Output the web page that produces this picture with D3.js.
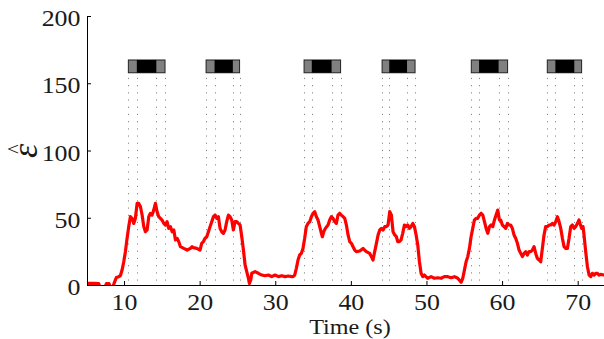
<!DOCTYPE html>
<html>
<head>
<meta charset="utf-8">
<script src="https://cdn.jsdelivr.net/npm/d3@7"></script>
<style>
  body { margin: 0; background: #fff; }
  svg { display: block; }
  text { font-family: "Liberation Serif", "Times New Roman", Times, serif; fill: #1a1a1a; }
</style>
</head>
<body>
<svg id="chart" width="604" height="339"></svg>
<script>
// Estimated error signal over time (s)
const timeS = [
  5.1, 5.33, 5.99, 6.65, 6.85, 7.45, 7.67, 8.02, 8.2, 8.55, 8.73, 8.99, 9.3, 9.52, 9.74, 9.96,
  10.18, 10.4, 10.62, 10.84, 11.06, 11.28, 11.5, 11.73, 11.95, 12.17, 12.39, 12.61, 12.83, 13.05,
  13.27, 13.49, 13.71, 13.93, 14.15, 14.37, 14.59, 14.81, 15.03, 15.25, 15.47, 15.69, 15.91, 16.14,
  16.36, 16.58, 16.8, 17.02, 17.24, 17.46, 17.9, 18.34, 18.78, 19.0, 19.17, 19.61, 20.05, 20.27,
  20.49, 20.71, 20.94, 21.16, 21.38, 21.6, 21.82, 22.04, 22.26, 22.48, 22.7, 22.92, 23.14, 23.36,
  23.58, 23.8, 24.02, 24.24, 24.46, 24.68, 24.9, 25.12, 25.35, 25.57, 25.79, 26.01, 26.23, 26.45,
  26.58, 26.76, 26.89, 27.33, 27.77, 28.21, 28.65, 29.09, 29.53, 29.97, 30.42, 30.86, 31.3, 31.74,
  32.18, 32.35, 32.57, 32.79, 33.01, 33.23, 33.45, 33.67, 33.89, 34.11, 34.33, 34.56, 34.78, 35.0,
  35.22, 35.44, 35.66, 35.88, 36.1, 36.23, 36.41, 36.63, 36.98, 37.2, 37.42, 37.64, 37.86, 38.08,
  38.3, 38.52, 38.74, 38.97, 39.19, 39.41, 39.63, 39.85, 40.07, 40.29, 40.51, 40.73, 41.17, 41.61,
  41.83, 42.05, 42.49, 42.71, 42.93, 43.15, 43.38, 43.6, 43.82, 44.04, 44.26, 44.48, 44.7, 44.92,
  45.14, 45.36, 45.58, 45.8, 46.02, 46.2, 46.42, 46.64, 46.86, 47.08, 47.3, 47.52, 47.74, 47.96,
  48.19, 48.41, 48.63, 48.85, 49.07, 49.29, 49.51, 49.73, 50.17, 50.61, 51.05, 51.49, 51.93, 52.37,
  52.82, 53.26, 53.7, 54.14, 54.58, 54.8, 55.02, 55.24, 55.46, 55.68, 55.9, 56.12, 56.34, 56.56,
  56.78, 57.01, 57.23, 57.45, 57.67, 57.89, 58.11, 58.33, 58.55, 58.77, 58.99, 59.21, 59.43, 59.65,
  59.82, 60.04, 60.26, 60.48, 60.7, 60.92, 61.14, 61.36, 61.58, 61.8, 62.03, 62.25, 62.47, 62.69,
  62.91, 63.13, 63.35, 63.57, 63.79, 64.01, 64.23, 64.45, 64.67, 64.89, 65.11, 65.33, 65.55, 65.77,
  66.0, 66.22, 66.44, 66.66, 66.88, 67.1, 67.32, 67.54, 67.76, 67.98, 68.2, 68.42, 68.64, 68.86,
  69.08, 69.3, 69.52, 69.74, 69.96, 70.18, 70.31, 70.53, 70.71, 70.84, 71.06, 71.29, 71.51, 71.73,
  71.95, 72.17, 72.39, 72.61, 72.83, 73.05, 73.49, 74.0, 74.5
];
const epsHat = [
  1.0, 1.2, 1.2, 1.0, -2, -2, 1.0, 1.0, -2, -1, 2, 5.6, 6.2, 7, 11.1, 17.3,
  24.8, 34.7, 43.4, 50.8, 49.6, 45.8, 49.6, 60.7, 60.7, 58.2, 52, 43.4, 39.6, 40.9,
  50.8, 53.3, 52, 55.7, 60.7, 54.5, 50.8, 49.6, 48.3, 45.8, 44.6, 47.1, 42.1, 43.4,
  39.6, 40.9, 33.5, 34.7, 32.2, 28.5, 27.2, 26, 27.2, 28.5, 27.8, 27.2, 26, 31,
  32.2, 34.7, 35.9, 39.6, 43.4, 47.1, 50.8, 52, 49.6, 50.8, 42.1, 39.6, 38.4, 40.9,
  47.1, 52, 50.8, 48.3, 40.9, 47.1, 47.1, 45.8, 44.6, 35.9, 26, 14.9, 9.9, 5,
  1.2, 3.7, 8.7, 9.9, 8.7, 7.4, 6.9, 7.4, 6.2, 7.4, 6.2, 6.9, 6.2, 6.7,
  6.2, 6.2, 7.4, 12.4, 18.6, 22.3, 23.5, 27.2, 34.7, 43.4, 45.8, 47.1, 50.8, 53.3,
  54.5, 50.8, 48.3, 43.4, 38.4, 35.9, 39.6, 42.1, 44.6, 48.3, 50.8, 49.6, 47.1, 45.8,
  52, 53.3, 52, 50.8, 49.6, 44.6, 37.2, 32.2, 31, 28.5, 26, 24.8, 25.3, 27.2,
  26, 24.8, 23.5, 21.1, 18.6, 24.8, 31, 37.2, 40.9, 42.1, 40.9, 43.4, 43.4, 44.6,
  54.5, 52, 39.6, 37.2, 35.9, 32.2, 32.2, 33.5, 38.4, 44.6, 43.4, 44.6, 42.1, 43.4,
  45.8, 43.4, 37.2, 29.7, 17.3, 8.7, 6.2, 7.4, 5, 6.2, 5, 5.4, 5, 6.2,
  6.2, 5.4, 6.2, 5, 2, 5, 11.1, 17.3, 21.1, 27.2, 35.9, 42.1, 48.3, 49.6,
  49.6, 52, 53.3, 52, 47.1, 42.1, 38.4, 43.4, 44.6, 43.4, 48.3, 52, 55.7, 48.3,
  48.3, 44.6, 43.4, 42.1, 45.8, 44.6, 44.6, 42.1, 37.2, 34.7, 31, 26, 23.5, 21.1,
  23.5, 24.8, 22.3, 24.8, 24.8, 26, 28.5, 23.5, 19.8, 18.6, 17.3, 27.2, 37.2, 43.4,
  43.4, 44.6, 44.6, 45.8, 44.6, 47.1, 50.8, 47.1, 42.1, 34.7, 28.5, 27.2, 27.2, 34.7,
  43.4, 44.6, 42.1, 43.4, 45.8, 48.3, 45.8, 42.1, 43.4, 37.2, 24.8, 13.6, 7.4, 6.2,
  8.7, 7.4, 8.7, 8.7, 7.4, 7.9, 7.4, 8.0, 7.5
];

// Stimulus windows: ramp-in start, full-on, full-off, ramp-out end (s)
const windowStart  = [10.57, 20.85, 33.81, 44.13, 55.93, 65.98];
const windowOnset  = [11.69, 21.97, 34.83, 45.08, 56.96, 67.05];
const windowOffset = [14.27, 24.39, 37.45, 47.43, 59.54, 69.55];
const windowEnd    = [15.42, 25.28, 38.64, 48.49, 60.73, 70.52];

const xTicks = [10, 20, 30, 40, 50, 60, 70];
const yTicks = [0, 50, 100, 150, 200];

const svg = d3.select("#chart");

const x = d3.scaleLinear().domain([5.1, 74.5]).range([87, 611.7]);
const y = d3.scaleLinear().domain([0, 200]).range([285, 16]);

// marker band drawn above the traces, in data units
const bandLow = 157.8, bandHigh = 167.3, guideTop = 154;

svg.append("defs").append("clipPath").attr("id", "plotClip")
  .append("rect").attr("x", 87).attr("y", 16).attr("width", 530).attr("height", 269);

const windows = windowStart.map((s, i) => ({
  s, on: windowOnset[i], off: windowOffset[i], e: windowEnd[i]
}));

// dotted guide lines at each window boundary
const guides = svg.append("g");
windows.forEach(w => {
  [w.s, w.on, w.off, w.e].forEach(t => {
    guides.append("line")
      .attr("x1", Math.round(x(t)) + 0.5).attr("x2", Math.round(x(t)) + 0.5)
      .attr("y1", y(guideTop)).attr("y2", y(0))
      .attr("stroke", "#8a8a8a").attr("stroke-width", 1)
      .attr("stroke-dasharray", "1.2 6");
  });
});

// window markers: grey ramps with a black plateau
const marks = svg.append("g");
windows.forEach(w => {
  marks.append("rect")
    .attr("x", x(w.s)).attr("y", y(bandHigh))
    .attr("width", x(w.e) - x(w.s)).attr("height", y(bandLow) - y(bandHigh))
    .attr("fill", "#808080").attr("stroke", "#222").attr("stroke-width", 1);
  marks.append("rect")
    .attr("x", x(w.on)).attr("y", y(bandHigh))
    .attr("width", x(w.off) - x(w.on)).attr("height", y(bandLow) - y(bandHigh))
    .attr("fill", "#000");
});

// the signal trace
const pts = timeS.map((t, i) => [t, epsHat[i]]);
svg.append("path")
  .datum(pts)
  .attr("clip-path", "url(#plotClip)")
  .attr("fill", "none")
  .attr("stroke", "#ff0000")
  .attr("stroke-width", 3.2)
  .attr("stroke-linejoin", "round")
  .attr("d", d3.line().x(d => x(d[0])).y(d => y(d[1])));

// axes
const xAxis = svg.append("g")
  .attr("transform", `translate(0,${y(0)})`)
  .call(d3.axisBottom(x).tickValues(xTicks).tickSize(-4).tickSizeOuter(0).tickPadding(8));
const yAxis = svg.append("g")
  .attr("transform", `translate(${x.range()[0]},0)`)
  .call(d3.axisLeft(y).tickValues(yTicks).tickSize(-4).tickSizeOuter(0).tickPadding(6));

[xAxis, yAxis].forEach(g => {
  g.attr("font-family", null);
  g.selectAll("path.domain").attr("stroke", "#000").attr("stroke-width", 1);
  g.selectAll(".tick line").attr("stroke", "#000");
  g.selectAll(".tick text")
    .attr("font-size", 24)
    .attr("fill", "#1a1a1a");
});
yAxis.selectAll(".tick text").attr("dy", "0.4em").attr("transform", "scale(1.08,1)");
xAxis.selectAll(".tick text").attr("transform", "scale(1.08,1)");

// axis titles
svg.append("text")
  .attr("transform", "translate(350,334) scale(1.15,1)")
  .attr("text-anchor", "middle")
  .attr("font-size", 21)
  .text("Time (s)");

// rotated y title: epsilon with a hat placed above it
const yTitle = svg.append("g").attr("transform", "translate(37,151) rotate(-90)");
yTitle.append("text")
  .attr("text-anchor", "middle")
  .attr("font-size", 36)
  .attr("font-style", "italic")
  .text("\u03B5");
yTitle.append("text")
  .attr("x", 2)
  .attr("y", -15)
  .attr("text-anchor", "middle")
  .attr("font-size", 20)
  .text("^");
</script>
</body>
</html>
